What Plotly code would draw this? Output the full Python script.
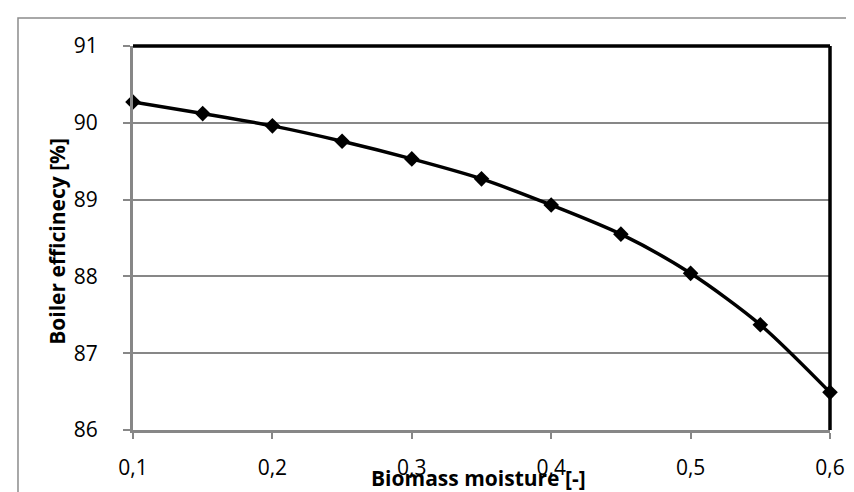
import plotly.graph_objects as go

moisture = [0.1, 0.15, 0.2, 0.25, 0.3, 0.35, 0.4, 0.45, 0.5, 0.55, 0.6]
efficiency = [90.27, 90.12, 89.96, 89.76, 89.53, 89.27, 88.93, 88.55, 88.04, 87.37, 86.49]
x_ticks = [0.1, 0.2, 0.3, 0.4, 0.5, 0.6]
y_ticks = [86, 87, 88, 89, 90, 91]

x_title = "Biomass moisture [-]"
y_title = "Boiler efficinecy [%]"

FONT = "Open Sans"
GRAY = "#878787"

fig = go.Figure()
fig.add_trace(go.Scatter(
    x=moisture, y=efficiency, mode="lines+markers",
    line=dict(color="black", width=3.5, shape="spline", smoothing=0.8),
    marker=dict(symbol="diamond", size=12, color="black"),
    showlegend=False, cliponaxis=False,
))

fig.update_layout(
    width=854, height=492,
    margin=dict(l=125, r=32, t=38, b=70),
    paper_bgcolor="white", plot_bgcolor="white",
    separators=",.",
    font=dict(family=FONT, size=21, color="black"),
    xaxis=dict(
        range=[0.1, 0.6], tickvals=x_ticks, tickformat=".1f",
        showgrid=False, zeroline=False,
        showline=True, linecolor=GRAY, linewidth=3,
        ticks="outside", ticklen=6, tickcolor=GRAY, tickwidth=1.5,
        ticklabelstandoff=11,
    ),
    yaxis=dict(
        range=[86, 91], tickvals=y_ticks,
        showgrid=True, gridcolor=GRAY, gridwidth=1.5,
        zeroline=False,
        showline=True, linecolor=GRAY, linewidth=3,
        ticks="outside", ticklen=7, tickcolor=GRAY, tickwidth=1.5,
        ticklabelstandoff=21,
    ),
    annotations=[
        dict(text=x_title, xref="paper", yref="paper", x=0.4957, y=-0.126,
             showarrow=False, font=dict(family=FONT, size=21, color="black", weight="bold"),
             xanchor="center", yanchor="middle", borderpad=0),
        dict(text=y_title, xref="paper", yref="paper", x=-0.109, y=0.49,
             showarrow=False, textangle=-90,
             font=dict(family=FONT, size=21, color="black", weight="bold"),
             xanchor="center", yanchor="middle"),
    ],
    shapes=[
        dict(type="line", xref="paper", yref="paper", x0=0, x1=1, y0=1, y1=1,
             line=dict(color="black", width=3.5)),
        dict(type="line", xref="paper", yref="paper", x0=1, x1=1, y0=0, y1=1,
             line=dict(color="black", width=3.5)),
        dict(type="rect", xref="paper", yref="paper", x0=-0.165, x1=1.2, y0=-0.4, y1=1.073,
             line=dict(color="#8c8c8c", width=1.5), layer="below"),
    ],
)

fig.write_html("out.html")
